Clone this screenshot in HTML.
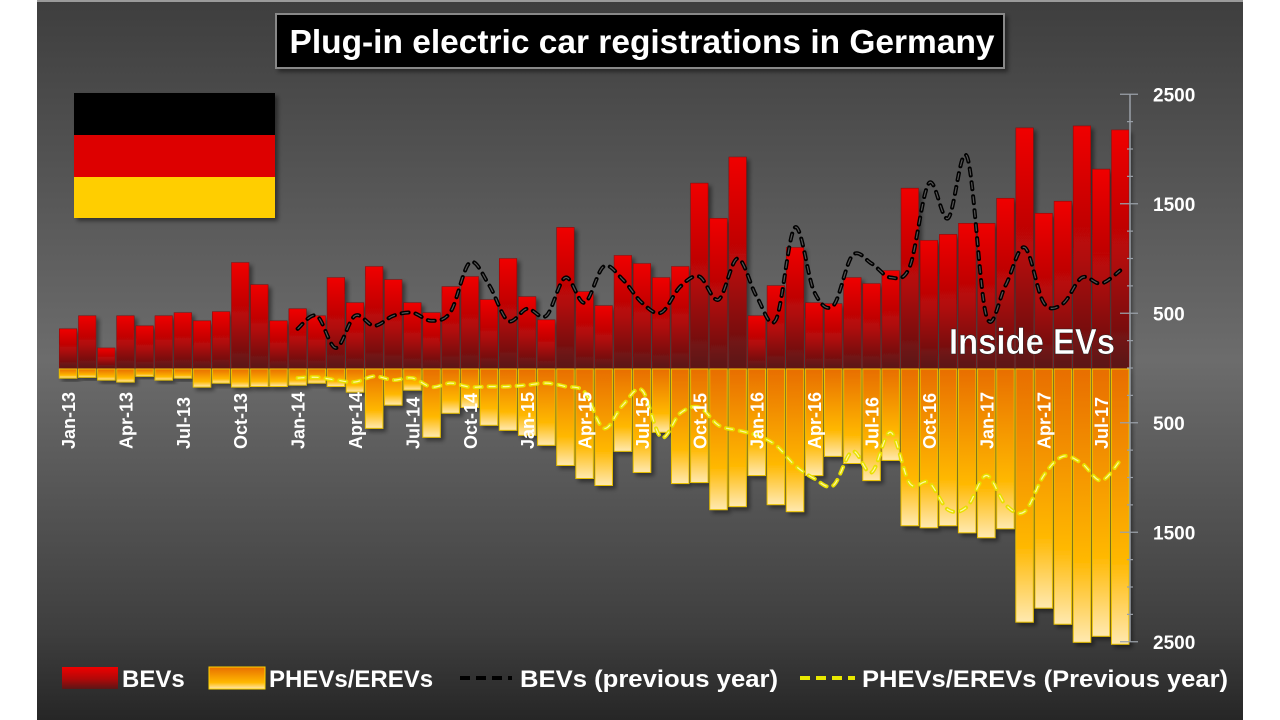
<!DOCTYPE html>
<html><head><meta charset="utf-8"><style>
body{margin:0;background:#fff;width:1280px;height:720px;overflow:hidden}
svg{display:block}
text{font-family:"Liberation Sans",sans-serif}
.nar{font-family:"Liberation Sans Narrow","Liberation Sans",sans-serif}
</style></head><body>
<svg id="chart" width="1280" height="720" viewBox="0 0 1280 720" xmlns="http://www.w3.org/2000/svg">
<defs>
<linearGradient id="bg" x1="0" y1="0" x2="0" y2="1">
<stop offset="0" stop-color="#3e3e3e"/><stop offset="0.5" stop-color="#6c6c6c"/><stop offset="0.88" stop-color="#3e3e3e"/><stop offset="1" stop-color="#262626"/>
</linearGradient>
<linearGradient id="red" x1="0" y1="0" x2="0" y2="1">
<stop offset="0" stop-color="#f00000"/><stop offset="0.55" stop-color="#b00808"/><stop offset="1" stop-color="#5a1616"/>
</linearGradient>
<linearGradient id="org" x1="0" y1="0" x2="0" y2="1">
<stop offset="0" stop-color="#e86e00"/><stop offset="0.7" stop-color="#ffb800"/><stop offset="1" stop-color="#ffe9b0"/>
</linearGradient>
<filter id="sh" x="-20%" y="-20%" width="160%" height="160%"><feDropShadow dx="3" dy="3" stdDeviation="2" flood-color="#000" flood-opacity="0.45"/></filter>
</defs>
<rect x="37" y="0" width="1206" height="720" fill="url(#bg)"/>
<rect x="37" y="0" width="1206" height="2" fill="#9a9a9a"/>
<g>
<rect x="276" y="14" width="728" height="54" fill="#000" stroke="#888" stroke-width="2" filter="url(#sh)"/>
<text x="642" y="53" text-anchor="middle" fill="#fff" font-size="33" font-weight="bold" textLength="705" lengthAdjust="spacingAndGlyphs">Plug-in electric car registrations in Germany</text>
</g>
<g filter="url(#sh)">
<rect x="74" y="93" width="201" height="42" fill="#000"/>
<rect x="74" y="135" width="201" height="42" fill="#dd0000"/>
<rect x="74" y="177" width="201" height="41" fill="#ffce00"/>
</g>
<g id="bars"></g>
<g id="lines"></g>
<g id="xlabels"></g>
<g id="axis"></g>
<text x="1032" y="354" text-anchor="middle" fill="#fff" font-size="36" font-weight="bold" font-family="DejaVu Sans Condensed, DejaVu Sans, sans-serif" stroke="#222" stroke-width="0.5" textLength="166" lengthAdjust="spacingAndGlyphs">Inside EVs</text>
<g class="nar" font-weight="bold" fill="#fff" font-size="24">
<g><rect x="62" y="667" width="56" height="22" fill="url(#red)"/><text x="122" y="687" fill="#fff">BEVs</text></g>
<g><rect x="209" y="667" width="56" height="22" fill="url(#org)" stroke="#ffd400"/><text x="269" y="687" fill="#fff">PHEVs/EREVs</text></g>
<g><line x1="460" y1="678" x2="512" y2="678" stroke="#000" stroke-width="4" stroke-dasharray="10,6"/><text x="520" y="687" fill="#fff" textLength="258" lengthAdjust="spacingAndGlyphs">BEVs (previous year)</text></g>
<g><line x1="800" y1="678" x2="855" y2="678" stroke="#e8e800" stroke-width="4" stroke-dasharray="10,6"/><text x="862" y="687" fill="#fff" textLength="366" lengthAdjust="spacingAndGlyphs">PHEVs/EREVs (Previous year)</text></g>
</g>
</svg>
<script>
const months = ["Jan-13","Feb-13","Mar-13","Apr-13","May-13","Jun-13","Jul-13","Aug-13","Sep-13","Oct-13","Nov-13","Dec-13","Jan-14","Feb-14","Mar-14","Apr-14","May-14","Jun-14","Jul-14","Aug-14","Sep-14","Oct-14","Nov-14","Dec-14","Jan-15","Feb-15","Mar-15","Apr-15","May-15","Jun-15","Jul-15","Aug-15","Sep-15","Oct-15","Nov-15","Dec-15","Jan-16","Feb-16","Mar-16","Apr-16","May-16","Jun-16","Jul-16","Aug-16","Sep-16","Oct-16","Nov-16","Dec-16","Jan-17","Feb-17","Mar-17","Apr-17","May-17","Jun-17","Jul-17","Aug-17"];
const bevs = [358,477,183,477,385,477,505,431,514,963,761,431,541,477,826,596,927,807,596,505,743,835,624,1000,651,440,1284,697,569,1028,954,826,927,1688,1367,1927,477,752,1101,596,587,826,771,890,1642,1165,1220,1321,1321,1550,2193,1413,1523,2211,1816,2174];
const phevs = [92,85,110,128,76,110,92,174,138,174,169,169,156,138,169,220,551,339,202,633,413,360,523,569,615,706,890,1009,1073,761,954,587,1055,1046,1294,1266,982,1248,1312,982,807,872,1028,844,1440,1459,1440,1505,1550,1468,2321,2193,2340,2505,2450,2523];
const yTicks = [2500,1500,500,500,1500,2500];
const ySigns = [1,1,1,-1,-1,-1];

const NS="http://www.w3.org/2000/svg";
const x0=58.5, step=19.13, zeroY=368, k=0.1095;
const xC=i=>x0+step*(i+0.5);
const yUp=v=>zeroY-v*k;
const yDn=v=>zeroY+v*k;
function mk(t,a,p){const e=document.createElementNS(NS,t);for(const n in a)e.setAttribute(n,a[n]);p.appendChild(e);return e;}
const bw=17.5;
const gb=document.getElementById('bars');
months.forEach((m,i)=>{
  const r=mk('rect',{x:xC(i)-bw/2,y:yUp(bevs[i]),width:bw,height:bevs[i]*k,fill:'url(#red)',stroke:'#8a1010','stroke-width':0.6,filter:'url(#sh)'},gb);
  
  
  const o=mk('rect',{x:xC(i)-bw/2,y:zeroY+1,width:bw,height:phevs[i]*k-1,fill:'url(#org)',stroke:'#e8c000','stroke-width':1,filter:'url(#sh)'},gb);
  
  
});
function smooth(pts){
  let d='M'+pts[0][0]+','+pts[0][1];
  for(let i=0;i<pts.length-1;i++){
    const p0=pts[i-1]||pts[i],p1=pts[i],p2=pts[i+1],p3=pts[i+2]||p2;
    const c1=[p1[0]+(p2[0]-p0[0])/6,p1[1]+(p2[1]-p0[1])/6];
    const c2=[p2[0]-(p3[0]-p1[0])/6,p2[1]-(p3[1]-p1[1])/6];
    d+=' C'+c1[0]+','+c1[1]+' '+c2[0]+','+c2[1]+' '+p2[0]+','+p2[1];
  }
  return d;
}
const gl=document.getElementById('lines');
const bp=[],pp=[];
for(let i=12;i<months.length;i++){bp.push([xC(i),yUp(bevs[i-12])]);pp.push([xC(i),yDn(phevs[i-12])]);}
const l1=mk('path',{d:smooth(bp),fill:'none',stroke:'#000','stroke-width':4,'stroke-dasharray':'7,7','stroke-linecap':'round'},gl);


const l1b=mk('path',{d:smooth(bp),fill:'none',stroke:'#555','stroke-width':1.2,'stroke-dasharray':'7,7'},gl);


const l2=mk('path',{d:smooth(pp),fill:'none',stroke:'#e8e000','stroke-width':4,'stroke-dasharray':'7,7','stroke-linecap':'round'},gl);


const l2b=mk('path',{d:smooth(pp),fill:'none',stroke:'#fff8a0','stroke-width':1.2,'stroke-dasharray':'7,7'},gl);


const gx=document.getElementById('xlabels');
months.forEach((m,i)=>{
  if(i%3!==0)return;
  const t=mk('text',{x:0,y:0,transform:'translate('+(xC(i)+7)+',449) rotate(-90)',fill:'#fff','font-size':18,'font-weight':'bold'},gx);
  t.textContent=m;
  
  
});
const ga=document.getElementById('axis');
const ax=1130;
const al=mk('line',{x1:ax,y1:yUp(2500),x2:ax,y2:yDn(2500),stroke:'#9aa0a8','stroke-width':1.5},ga);


for(let v=-2500;v<=2500;v+=250){
  const y=v>=0?yUp(v):yDn(-v);
  const major=(Math.abs(v)%1000===500);
  const tk=mk('line',{x1:major?ax-10:ax-3,y1:y,x2:ax+(major?8:3),y2:y,stroke:'#9aa0a8','stroke-width':1.2},ga);
  
  
}
yTicks.forEach((v,i)=>{
  const y=ySigns[i]>0?yUp(v):yDn(v);
  const t=mk('text',{x:1153,y:y+7,fill:'#fff','font-size':19,'font-weight':'bold'},ga);
  t.textContent=v;
  
  
});
</script>
</body></html>
